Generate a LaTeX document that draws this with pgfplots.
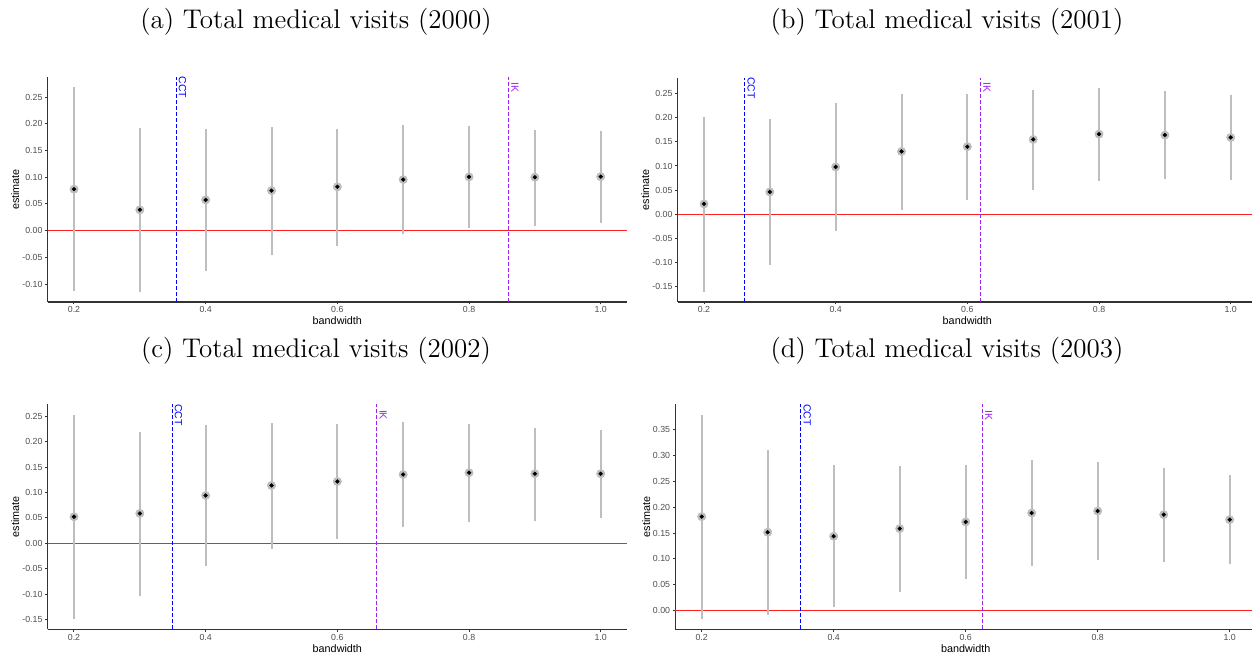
\documentclass[border=0pt]{standalone}
\usepackage{fontspec}
\usepackage{pgfplots}
\usepackage{pgfplotstable}
\pgfplotsset{compat=1.18}
\newfontfamily\ggfont{Liberation Sans}

\definecolor{ggaxis}{HTML}{333333}
\definecolor{ggtick}{HTML}{4D4D4D}
\definecolor{ggbar}{HTML}{BEBEBE}
\definecolor{ggpt}{HTML}{BDBDBD}
\definecolor{ggred}{HTML}{FF2020}
\definecolor{ggblue}{HTML}{0000FF}
\definecolor{ggpurple}{HTML}{A020F0}

% bandwidth, point estimate, lower and upper CI bound
\pgfplotstableread{
bw  est     lo       hi
0.2 0.0775 -0.1125  0.268
0.3 0.039  -0.114   0.192
0.4 0.0575 -0.076   0.190
0.5 0.075  -0.045   0.194
0.6 0.082  -0.028   0.190
0.7 0.0956 -0.0056  0.1975
0.8 0.1006  0.005   0.195
0.9 0.100   0.0094  0.189
1.0 0.101   0.0144  0.187
}\tabA
\pgfplotstableread{
bw  est     lo       hi
0.2 0.0214 -0.161   0.2023
0.3 0.0463 -0.105   0.197
0.4 0.098  -0.035   0.231
0.5 0.130   0.009   0.249
0.6 0.140   0.0297  0.250
0.7 0.155   0.051   0.257
0.8 0.166   0.068   0.262
0.9 0.164   0.0725  0.256
1.0 0.159   0.0718  0.2465
}\tabB
\pgfplotstableread{
bw  est     lo       hi
0.2 0.0524 -0.149   0.2526
0.3 0.0589 -0.1027  0.220
0.4 0.0942 -0.045   0.233
0.5 0.1139 -0.0105  0.236
0.6 0.1217  0.0092  0.234
0.7 0.1355  0.0314  0.238
0.8 0.139   0.042   0.235
0.9 0.137   0.045   0.227
1.0 0.137   0.049   0.223
}\tabC
\pgfplotstableread{
bw  est     lo       hi
0.2 0.1818 -0.016   0.378
0.3 0.1516 -0.0083  0.310
0.4 0.1439  0.0064  0.281
0.5 0.1586  0.036   0.280
0.6 0.1715  0.0604  0.281
0.7 0.1888  0.086   0.291
0.8 0.1927  0.0976  0.288
0.9 0.1856  0.095   0.2755
1.0 0.176   0.090   0.2614
}\tabD

\pgfplotsset{
  rdplot/.style={
    scale only axis, width=289.7pt, height=112.5pt,
    xmin=0.16, xmax=1.04,
    axis x line*=bottom, axis y line*=left,
    axis line style={-, ggaxis, line width=0.6pt},
    xtick={0.2,0.4,0.6,0.8,1.0},
    tick align=outside, major tick length=1.2pt,
    tick style={ggaxis, line width=0.5pt},
    /pgf/number format/assume math mode=true,
    ticklabel style={font=\ggfont\fontsize{4.4}{5}\selectfont, text=ggtick},
    x tick label style={/pgf/number format/.cd, fixed, fixed zerofill, precision=1, /tikz/.cd,
      anchor=north, inner sep=0pt, yshift=-1.0pt},
    y tick label style={/pgf/number format/.cd, fixed, fixed zerofill, precision=2, /tikz/.cd,
      anchor=east, inner sep=0pt, xshift=-1.2pt},
    scaled y ticks=false,
    xlabel={bandwidth}, ylabel={estimate},
    label style={font=\ggfont\fontsize{5.4}{6}\selectfont, text=black},
    xlabel style={at={(axis description cs:0.5,-0.0844)}, anchor=center},
    ylabel style={at={(axis description cs:-0.056,0.5)}, anchor=center},
    clip=false,
  },
}
\tikzset{
  bwlabel/.style={rotate=-90, anchor=south, inner sep=1.2pt,
    font=\ggfont\fontsize{5.2}{6}\selectfont},
}

% zero line, the two selected bandwidths with their labels
\newcommand{\guides}[5]{% #1 ymin, #2 ymax, #3 CCT, #4 IK, #5 label height
  \draw[draw=ggred, line width=0.6pt] (axis cs:0.16,0) -- (axis cs:1.04,0);
  \addplot[color=ggblue, dash pattern=on 2pt off 1pt, line width=0.5pt, mark=none]
    coordinates {(#3,#1) (#3,#2)};
  \addplot[color=ggpurple, dash pattern=on 2pt off 1pt, line width=0.5pt, mark=none]
    coordinates {(#4,#1) (#4,#2)};
  \node[bwlabel, text=ggblue] at (axis cs:#3,#5) {CCT};
  \node[bwlabel, text=ggpurple] at (axis cs:#4,#5) {IK};
}

% intervals and point estimates for one table
\newcommand{\estimates}[1]{%
  \addplot[color=ggbar, only marks, mark=none,
    error bars/.cd, y dir=both, y explicit, error mark=none,
    error bar style={color=ggbar, line width=1pt}]
    table[x=bw, y=est,
      y error plus expr=\thisrow{hi}-\thisrow{est},
      y error minus expr=\thisrow{est}-\thisrow{lo}] {#1};
  \addplot[color=ggpt, only marks, mark=*, mark size=1.85pt] table[x=bw, y=est] {#1};
  \addplot[color=black, only marks, mark=*, mark size=0.85pt] table[x=bw, y=est] {#1};
}

\begin{document}
\begin{tikzpicture}
\useasboundingbox (0,0) rectangle (626pt,328.5pt);
\clip (0,0) rectangle (626pt,328.5pt);

\tikzset{paneltitle/.style={anchor=base, font=\fontsize{13.5}{16}\selectfont}}
\node[paneltitle] at (158pt,314pt) {(a) Total medical visits (2000)};
\node[paneltitle] at (473.5pt,314pt) {(b) Total medical visits (2001)};
\node[paneltitle] at (158pt,149.5pt) {(c) Total medical visits (2002)};
\node[paneltitle] at (473.5pt,149.5pt) {(d) Total medical visits (2003)};

% (a) 2000
\begin{axis}[rdplot, at={(23.83pt,177.5pt)}, anchor=south west,
  ymin=-0.1335, ymax=0.2875,
  ytick={-0.10,-0.05,0,0.05,0.10,0.15,0.20,0.25}]
  \guides{-0.1335}{0.2875}{0.355}{0.860}{0.268}
  \estimates{\tabA}
\end{axis}

% (b) 2001
\begin{axis}[rdplot, at={(338.83pt,177.5pt)}, anchor=south west,
  height=112.2pt, ymin=-0.1816, ymax=0.283,
  ytick={-0.15,-0.10,-0.05,0,0.05,0.10,0.15,0.20,0.25}]
  \guides{-0.1816}{0.283}{0.262}{0.620}{0.262}
  \estimates{\tabB}
\end{axis}

% (c) 2002
\begin{axis}[rdplot, at={(23.83pt,13.85pt)}, anchor=south west,
  ymin=-0.169, ymax=0.2736,
  ytick={-0.15,-0.10,-0.05,0,0.05,0.10,0.15,0.20,0.25}]
  \guides{-0.169}{0.2736}{0.349}{0.660}{0.2526}
  \estimates{\tabC}
\end{axis}

% (d) 2003
\begin{axis}[rdplot, at={(337.65pt,13.85pt)}, anchor=south west,
  width=290.4pt, ymin=-0.036, ymax=0.399,
  ytick={0,0.05,0.10,0.15,0.20,0.25,0.30,0.35},
  ylabel style={at={(axis description cs:-0.05,0.5)}}]
  \guides{-0.036}{0.399}{0.350}{0.625}{0.378}
  \estimates{\tabD}
\end{axis}
\end{tikzpicture}
\end{document}
